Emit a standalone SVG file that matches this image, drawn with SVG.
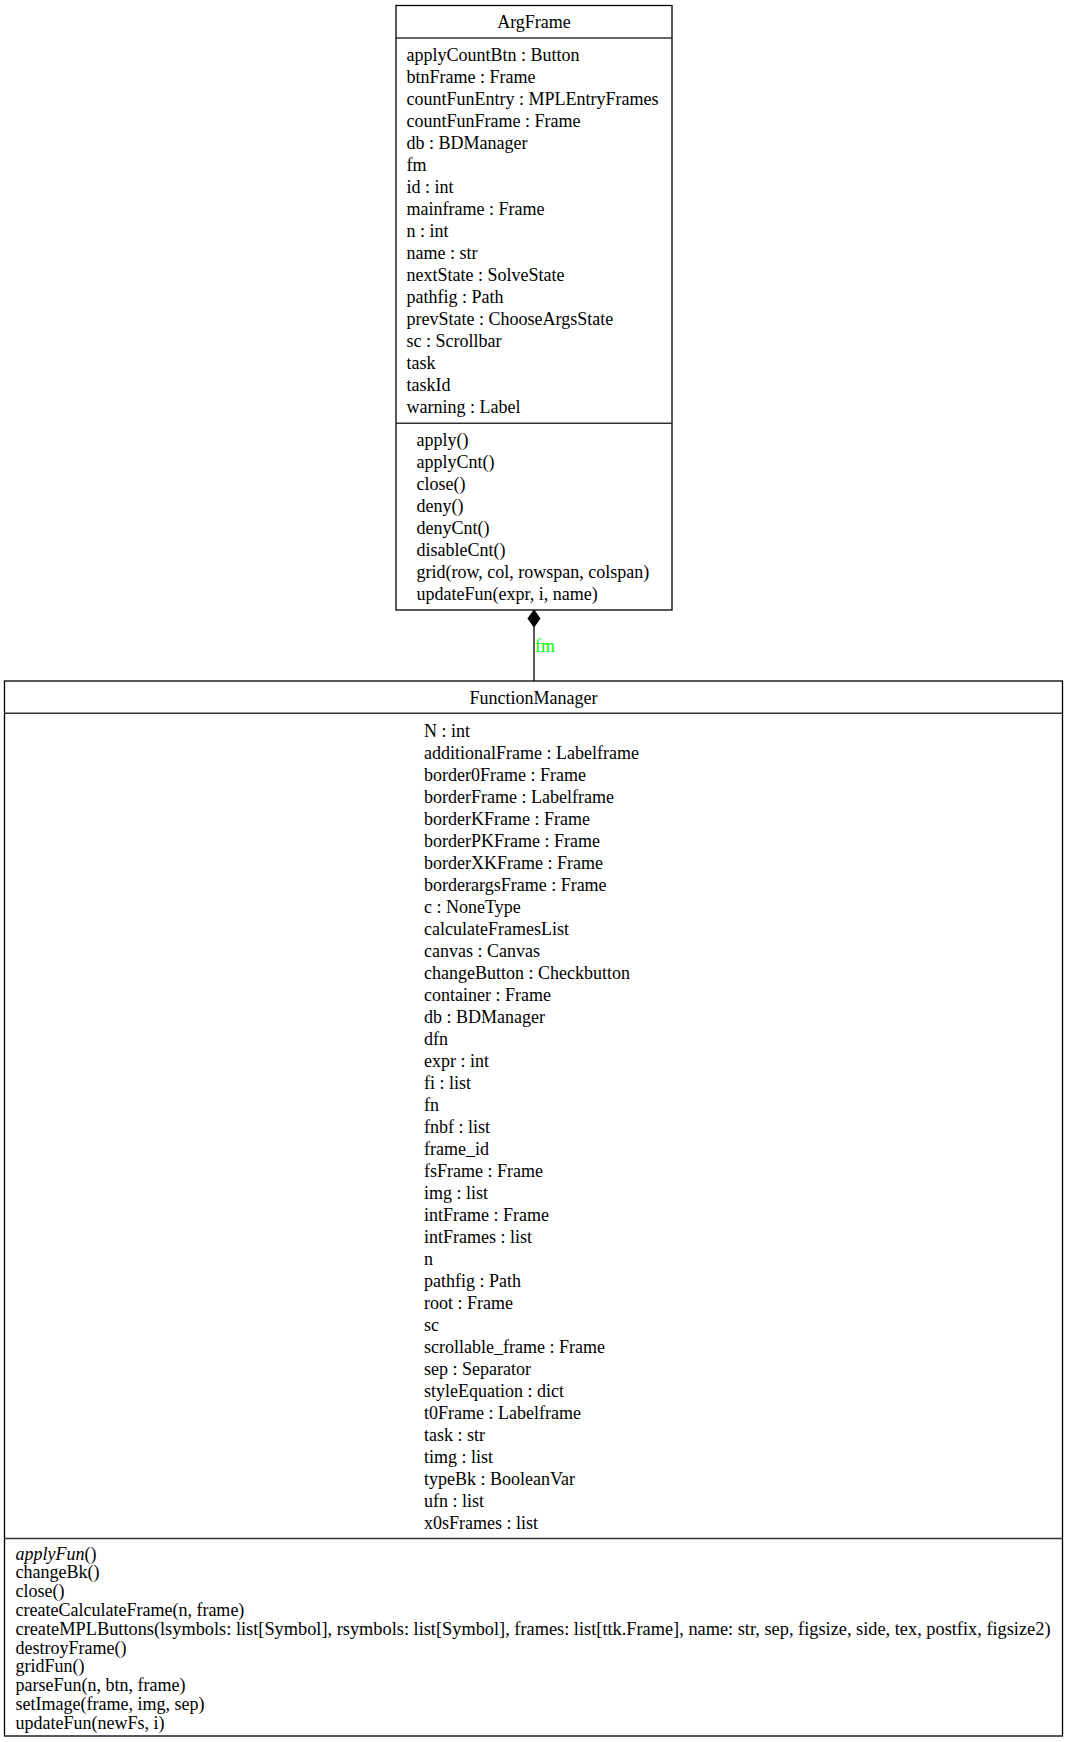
<svg xmlns="http://www.w3.org/2000/svg" width="1068" height="1742" viewBox="0 0 1068 1742">
  <style>
    text { font-family: "Liberation Serif", "Times New Roman", serif; font-size: 18px; fill: #000; }
    .box { fill: #fff; stroke: #000; stroke-width: 1.3; }
    .sep { stroke: #333; stroke-width: 1.5; }
    .mid { text-anchor: middle; }
    .abstract { font-style: italic; }
    .edge { stroke: #000; stroke-width: 1.3; fill: none; }
    .role { fill: #00ff00; }
  </style>
  <rect width="1068" height="1742" fill="#fff"/>

  <!-- composition: FunctionManager is held by ArgFrame as "fm" -->
  <g id="connectors">
    <line class="edge" x1="534" y1="627" x2="534" y2="681"/>
    <polygon points="534,610 540,618.5 534,627 528,618.5" fill="#000" stroke="#000" stroke-width="1"/>
    <text class="role" x="535" y="652">fm</text>
  </g>

  <g id="ArgFrame">
    <rect class="box" x="396" y="5.5" width="276" height="604.5"/>
    <text class="mid" x="534" y="28">ArgFrame</text>
    <line class="sep" x1="396" y1="38" x2="672" y2="38"/>
    <g>
      <text x="406.5" y="61">applyCountBtn : Button</text>
      <text x="406.5" y="83">btnFrame : Frame</text>
      <text x="406.5" y="105">countFunEntry : MPLEntryFrames</text>
      <text x="406.5" y="127">countFunFrame : Frame</text>
      <text x="406.5" y="149">db : BDManager</text>
      <text x="406.5" y="171">fm</text>
      <text x="406.5" y="193">id : int</text>
      <text x="406.5" y="215">mainframe : Frame</text>
      <text x="406.5" y="237">n : int</text>
      <text x="406.5" y="259">name : str</text>
      <text x="406.5" y="281">nextState : SolveState</text>
      <text x="406.5" y="303">pathfig : Path</text>
      <text x="406.5" y="325">prevState : ChooseArgsState</text>
      <text x="406.5" y="347">sc : Scrollbar</text>
      <text x="406.5" y="369">task</text>
      <text x="406.5" y="391">taskId</text>
      <text x="406.5" y="413">warning : Label</text>
    </g>
    <line class="sep" x1="396" y1="423.3" x2="672" y2="423.3"/>
    <g>
      <text x="416.5" y="446">apply()</text>
      <text x="416.5" y="468">applyCnt()</text>
      <text x="416.5" y="490">close()</text>
      <text x="416.5" y="512">deny()</text>
      <text x="416.5" y="534">denyCnt()</text>
      <text x="416.5" y="556">disableCnt()</text>
      <text x="416.5" y="578">grid(row, col, rowspan, colspan)</text>
      <text x="416.5" y="600">updateFun(expr, i, name)</text>
    </g>
  </g>

  <g id="FunctionManager">
    <rect class="box" x="4.5" y="681" width="1058" height="1055"/>
    <text class="mid" x="533.5" y="704">FunctionManager</text>
    <line class="sep" x1="4.5" y1="713.3" x2="1062.5" y2="713.3"/>
    <g>
      <text x="424" y="737.2">N : int</text>
      <text x="424" y="759.2">additionalFrame : Labelframe</text>
      <text x="424" y="781.2">border0Frame : Frame</text>
      <text x="424" y="803.2">borderFrame : Labelframe</text>
      <text x="424" y="825.2">borderKFrame : Frame</text>
      <text x="424" y="847.2">borderPKFrame : Frame</text>
      <text x="424" y="869.2">borderXKFrame : Frame</text>
      <text x="424" y="891.2">borderargsFrame : Frame</text>
      <text x="424" y="913.2">c : NoneType</text>
      <text x="424" y="935.2">calculateFramesList</text>
      <text x="424" y="957.2">canvas : Canvas</text>
      <text x="424" y="979.2">changeButton : Checkbutton</text>
      <text x="424" y="1001.2">container : Frame</text>
      <text x="424" y="1023.2">db : BDManager</text>
      <text x="424" y="1045.2">dfn</text>
      <text x="424" y="1067.2">expr : int</text>
      <text x="424" y="1089.2">fi : list</text>
      <text x="424" y="1111.2">fn</text>
      <text x="424" y="1133.2">fnbf : list</text>
      <text x="424" y="1155.2">frame_id</text>
      <text x="424" y="1177.2">fsFrame : Frame</text>
      <text x="424" y="1199.2">img : list</text>
      <text x="424" y="1221.2">intFrame : Frame</text>
      <text x="424" y="1243.2">intFrames : list</text>
      <text x="424" y="1265.2">n</text>
      <text x="424" y="1287.2">pathfig : Path</text>
      <text x="424" y="1309.2">root : Frame</text>
      <text x="424" y="1331.2">sc</text>
      <text x="424" y="1353.2">scrollable_frame : Frame</text>
      <text x="424" y="1375.2">sep : Separator</text>
      <text x="424" y="1397.2">styleEquation : dict</text>
      <text x="424" y="1419.2">t0Frame : Labelframe</text>
      <text x="424" y="1441.2">task : str</text>
      <text x="424" y="1463.2">timg : list</text>
      <text x="424" y="1485.2">typeBk : BooleanVar</text>
      <text x="424" y="1507.2">ufn : list</text>
      <text x="424" y="1529.2">x0sFrames : list</text>
    </g>
    <line class="sep" x1="4.5" y1="1538.5" x2="1062.5" y2="1538.5"/>
    <g>
      <text class="abstract" x="15.5" y="1559.5">applyFun<tspan font-style="normal">()</tspan></text>
      <text x="15.5" y="1578.3">changeBk()</text>
      <text x="15.5" y="1597.1">close()</text>
      <text x="15.5" y="1615.9">createCalculateFrame(n, frame)</text>
      <text x="15.5" y="1634.7" textLength="1035" lengthAdjust="spacingAndGlyphs">createMPLButtons(lsymbols: list[Symbol], rsymbols: list[Symbol], frames: list[ttk.Frame], name: str, sep, figsize, side, tex, postfix, figsize2)</text>
      <text x="15.5" y="1653.5">destroyFrame()</text>
      <text x="15.5" y="1672.3">gridFun()</text>
      <text x="15.5" y="1691.1">parseFun(n, btn, frame)</text>
      <text x="15.5" y="1709.9">setImage(frame, img, sep)</text>
      <text x="15.5" y="1728.7">updateFun(newFs, i)</text>
    </g>
  </g>
</svg>
